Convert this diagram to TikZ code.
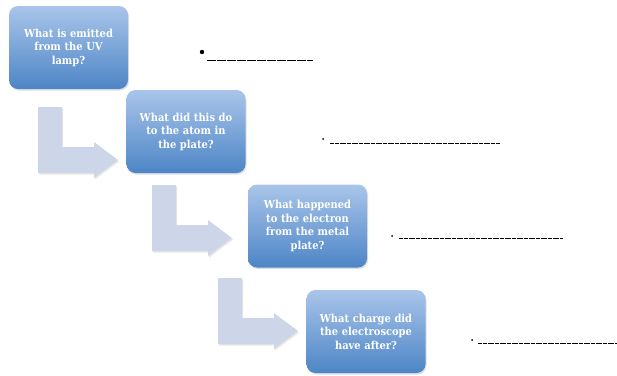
\documentclass[tikz,border=0pt]{standalone}
\usepackage{fontspec}
\setmainfont{DejaVu Serif Condensed}
\usetikzlibrary{shadows}
\definecolor{boxtop}{HTML}{A9C5EA}
\definecolor{boxbot}{HTML}{4D85C6}
\definecolor{bendfill}{HTML}{CDD6E9}
\tikzset{
  qbox/.style={rounded corners=9pt,top color=boxtop,bottom color=boxbot,
    minimum width=119pt,minimum height=83pt,text width=110pt,align=center,
    text=white,font=\fontsize{11}{13.5}\selectfont\bfseries,inner sep=0pt,
    drop shadow={shadow xshift=1pt,shadow yshift=-1.5pt,opacity=.25}},
  bentarrow/.style={fill=bendfill,drop shadow={shadow xshift=1pt,shadow yshift=-1.5pt,opacity=.2}},
  blank/.style={line width=.6pt,dash pattern=on 2pt off .4pt}
}
\begin{document}
\begin{tikzpicture}[x=1pt,y=-1pt]
  \useasboundingbox (0,0) rectangle (617,375);
  % bent arrows
  \foreach \x/\y in {38/107,152/185,218/278}
    \path[bentarrow] (\x,\y) -- ++(24,0) -- ++(0,40) -- ++(32,0) -- ++(0,-5) -- ++(24,18)
      -- ++(-24,18) -- ++(0,-5) -- ++(-56,0) -- cycle;
  % question boxes
  \node[qbox] (A) at (68.5,47.5) {What is emitted\\from the UV\\lamp?};
  \node[qbox] (B) at (186,131.5) {What did this do\\to the atom in\\the plate?};
  \node[qbox] (C) at (307.5,226) {What happened\\to the electron\\from the metal\\plate?};
  \node[qbox] (D) at (366,331.5) {What charge did\\the electroscope\\have after?};
  % answer lines
  \path (202,52) coordinate (a1) (207,60) coordinate (l1)
        (323,139) coordinate (a2) (330,143) coordinate (l2)
        (392,236) coordinate (a3) (399,238.5) coordinate (l3)
        (472,340) coordinate (a4) (478,343) coordinate (l4);
  \fill (a1) circle (2.2pt);
  \foreach \P in {a2,a3,a4} \fill (\P) circle (1pt);
  \draw[blank,line width=1pt,dash pattern=on 9pt off 1pt] (l1) -- ++(106,0);
  \draw[blank] (l2) -- ++(170,0);
  \draw[blank] (l3) -- ++(164,0);
  \draw[blank] (l4) -- ++(139,0);
\end{tikzpicture}
\end{document}
